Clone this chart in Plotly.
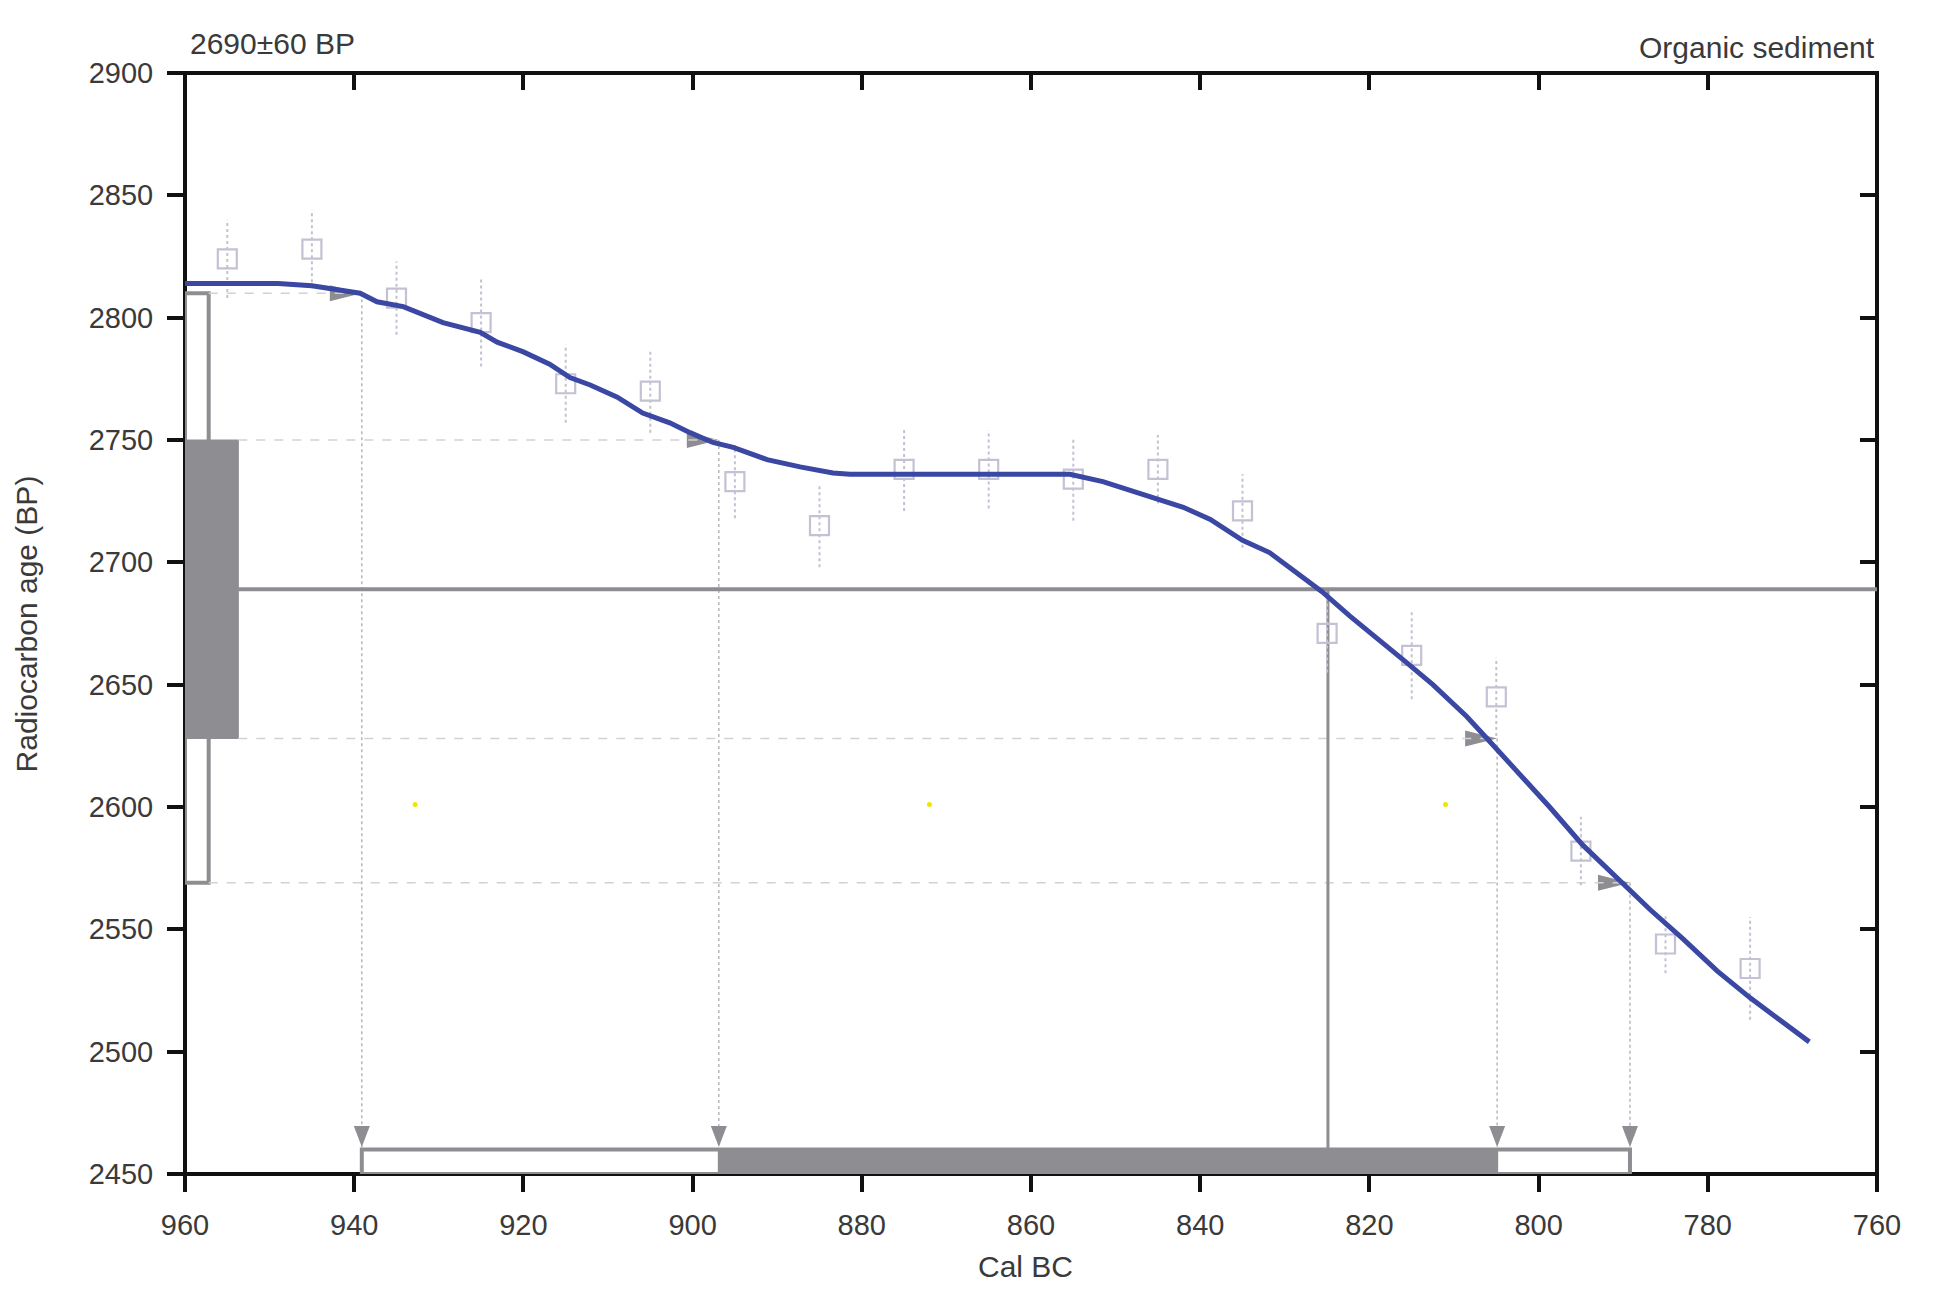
import plotly.graph_objects as go

# ---------------- data ----------------
cal_years = [960, 949, 945, 939.3, 937.3, 934.2, 929.5, 925.1, 923.1, 920, 916.9, 914.5, 912.1,
             908.9, 905.9, 902.7, 900.3, 897.6, 895.2, 891.2, 887.3, 883.4, 881.4, 875, 865,
             855.4, 851.5, 847.5, 842, 838.8, 835, 831.8, 828.2, 825.6, 822.3, 818.7, 815.6,
             812.5, 808.5, 806.1, 802.6, 798.7, 794.8, 790.8, 786.8, 782.9, 778.9, 775, 771.5, 768]
cal_bp = [2814, 2814, 2813, 2810, 2806.5, 2804.5, 2798, 2794, 2790, 2786, 2781, 2775.5, 2772.5,
          2767.5, 2761, 2757, 2753, 2749, 2747, 2742, 2739, 2736.5, 2736, 2736, 2736,
          2736, 2733, 2728.5, 2722.5, 2717.5, 2709, 2704, 2694.5, 2688, 2678, 2668, 2659,
          2650, 2637, 2628, 2615, 2600, 2584.5, 2571, 2558, 2546, 2533, 2522, 2513, 2504]

sample_years = [955, 945, 935, 925, 915, 905, 895, 885, 875, 865, 855, 845, 835, 825, 815, 805, 795, 785, 775]
sample_bp = [2824, 2828, 2808, 2798, 2773, 2770, 2733, 2715, 2738, 2738, 2734, 2738, 2721, 2671, 2662, 2645, 2582, 2544, 2534]
sample_err = [16, 16, 15, 18, 16, 17, 15, 17, 17, 16, 17, 14, 15, 16, 18, 16, 14, 12, 21]

date_bp = 2689
one_sigma_bp = [2628, 2750]
two_sigma_bp = [2569, 2810]
one_sigma_cal = [896.9, 804.9]     # calendar intercepts for 1 sigma (top, bottom)
two_sigma_cal = [939.1, 789.2]     # calendar intercepts for 2 sigma (top, bottom)
intercept_cal = 824.9

speck_years = [932.8, 872, 811]
speck_bp = [2601, 2601, 2601]

x_ticks = [960, 940, 920, 900, 880, 860, 840, 820, 800, 780, 760]
y_ticks = [2900, 2850, 2800, 2750, 2700, 2650, 2600, 2550, 2500, 2450]

# ---------------- style constants ----------------
X_RANGE = [960, 760]
Y_RANGE = [2450, 2900]
BOX1_RIGHT = 953.7      # right edge of filled 1-sigma box (years)
BOX2_RIGHT = 957.2      # right edge of open 2-sigma box
BAR_BOTTOM, BAR_TOP = 2450, 2460
ARROW_TIP_BP = 2461

GREY = "#8e8e92"
LIGHT = "#c2c2d4"
BLUE = "#3a47a3"
TXT = "#3a3a3a"
FONT = "Liberation Sans, Arial, sans-serif"

fig = go.Figure()

# left probability boxes
x0 = X_RANGE[0]
fig.add_trace(go.Scatter(
    x=[x0, BOX2_RIGHT, BOX2_RIGHT, x0, x0],
    y=[two_sigma_bp[0], two_sigma_bp[0], two_sigma_bp[1], two_sigma_bp[1], two_sigma_bp[0]],
    mode="lines", line=dict(color=GREY, width=4), fill="toself", fillcolor="white",
    hoverinfo="skip", showlegend=False))
fig.add_trace(go.Scatter(
    x=[x0, BOX1_RIGHT, BOX1_RIGHT, x0, x0],
    y=[one_sigma_bp[0], one_sigma_bp[0], one_sigma_bp[1], one_sigma_bp[1], one_sigma_bp[0]],
    mode="lines", line=dict(color=GREY, width=1), fill="toself", fillcolor=GREY,
    hoverinfo="skip", showlegend=False))

# dashed horizontal guides
hx, hy = [], []
for bp, xr, start in [(two_sigma_bp[1], two_sigma_cal[0], BOX2_RIGHT),
                      (one_sigma_bp[1], one_sigma_cal[0], BOX1_RIGHT),
                      (one_sigma_bp[0], one_sigma_cal[1], BOX1_RIGHT),
                      (two_sigma_bp[0], two_sigma_cal[1], BOX2_RIGHT)]:
    hx += [start, xr, None]
    hy += [bp, bp, None]
fig.add_trace(go.Scatter(x=hx, y=hy, mode="lines",
                         line=dict(color="#d2d2d6", width=1.5, dash="dash"),
                         hoverinfo="skip", showlegend=False))

# dotted vertical guides
vx, vy = [], []
for xv, bp in [(two_sigma_cal[0], two_sigma_bp[1]), (one_sigma_cal[0], one_sigma_bp[1]),
               (one_sigma_cal[1], one_sigma_bp[0]), (two_sigma_cal[1], two_sigma_bp[0])]:
    vx += [xv, xv, None]
    vy += [bp, ARROW_TIP_BP, None]
fig.add_trace(go.Scatter(x=vx, y=vy, mode="lines",
                         line=dict(color="#b8b8bc", width=1.5, dash="dot"),
                         hoverinfo="skip", showlegend=False))

# measured date line + intercept
fig.add_trace(go.Scatter(x=[BOX1_RIGHT, X_RANGE[1]], y=[date_bp, date_bp], mode="lines",
                         line=dict(color=GREY, width=4), hoverinfo="skip", showlegend=False))
fig.add_trace(go.Scatter(x=[intercept_cal, intercept_cal], y=[date_bp, BAR_TOP], mode="lines",
                         line=dict(color=GREY, width=3), hoverinfo="skip", showlegend=False))

# error bars (dotted) and open squares
ex, ey = [], []
for xv, bp, e in zip(sample_years, sample_bp, sample_err):
    ex += [xv, xv, None]
    ey += [bp - e, bp + e, None]
fig.add_trace(go.Scatter(x=ex, y=ey, mode="lines",
                         line=dict(color=LIGHT, width=2, dash="dot"),
                         hoverinfo="skip", showlegend=False))
fig.add_trace(go.Scatter(x=sample_years, y=sample_bp, mode="markers",
                         marker=dict(symbol="square-open", size=19, color=LIGHT,
                                     line=dict(width=2.2, color=LIGHT)),
                         showlegend=False))

# calibration curve
fig.add_trace(go.Scatter(x=cal_years, y=cal_bp, mode="lines",
                         line=dict(color=BLUE, width=5), showlegend=False))

# bottom calendar ranges
fig.add_trace(go.Scatter(
    x=[two_sigma_cal[0], two_sigma_cal[1], two_sigma_cal[1], two_sigma_cal[0], two_sigma_cal[0]],
    y=[BAR_BOTTOM, BAR_BOTTOM, BAR_TOP, BAR_TOP, BAR_BOTTOM],
    mode="lines", line=dict(color=GREY, width=4), fill="toself", fillcolor="white",
    hoverinfo="skip", showlegend=False))
fig.add_trace(go.Scatter(
    x=[one_sigma_cal[0], one_sigma_cal[1], one_sigma_cal[1], one_sigma_cal[0], one_sigma_cal[0]],
    y=[BAR_BOTTOM, BAR_BOTTOM, BAR_TOP, BAR_TOP, BAR_BOTTOM],
    mode="lines", line=dict(color=GREY, width=2), fill="toself", fillcolor=GREY,
    hoverinfo="skip", showlegend=False))

# yellow specks
fig.add_trace(go.Scatter(x=speck_years, y=speck_bp, mode="markers",
                         marker=dict(color="#f2e600", size=5), hoverinfo="skip", showlegend=False))

# invisible trace to activate mirror axes
fig.add_trace(go.Scatter(x=[None], y=[None], xaxis="x2", yaxis="y2", mode="markers",
                         hoverinfo="skip", showlegend=False))

shapes = []
# frame
shapes.append(dict(type="rect", xref="paper", yref="paper", x0=0, x1=1, y0=0, y1=1,
                   line=dict(color="#111111", width=4), layer="below"))
# arrowheads at curve intercepts and above the calendar bars
for xv, bp in [(two_sigma_cal[0], two_sigma_bp[1]), (one_sigma_cal[0], one_sigma_bp[1]),
               (one_sigma_cal[1], one_sigma_bp[0]), (two_sigma_cal[1], two_sigma_bp[0])]:
    shapes.append(dict(type="path", xref="x", yref="y", xsizemode="pixel", ysizemode="pixel",
                       xanchor=xv, yanchor=bp, path="M0,0 L-32,8 L-32,-8 Z",
                       fillcolor=GREY, line=dict(width=0), layer="below"))
    shapes.append(dict(type="path", xref="x", yref="y", xsizemode="pixel", ysizemode="pixel",
                       xanchor=xv, yanchor=ARROW_TIP_BP, path="M0,0 L-8,21 L8,21 Z",
                       fillcolor=GREY, line=dict(width=0), layer="above"))

tickfont = dict(family=FONT, size=29, color=TXT)
axis_common = dict(showgrid=False, zeroline=False, showline=False,
                   ticklen=17, tickwidth=4, tickcolor="#111111")

# page body has an 8px margin -> figure sized to fit the window
fig.update_layout(
    width=1922, height=1277, autosize=False,
    margin=dict(l=177, r=53, t=65, b=111),
    paper_bgcolor="white", plot_bgcolor="white",
    font=dict(family=FONT, color=TXT),
    xaxis=dict(range=X_RANGE, tickvals=x_ticks, ticks="outside", tickfont=tickfont,
               ticklabelstandoff=8, **axis_common),
    yaxis=dict(range=Y_RANGE, tickvals=y_ticks, ticks="outside", tickfont=tickfont,
               ticklabelstandoff=8, **axis_common),
    xaxis2=dict(range=X_RANGE, tickvals=x_ticks[1:-1], ticks="inside", overlaying="x",
                side="top", showticklabels=False, **axis_common),
    yaxis2=dict(range=Y_RANGE, tickvals=y_ticks[1:-1], ticks="inside", overlaying="y",
                side="right", showticklabels=False, **axis_common),
    shapes=shapes,
    annotations=[
        dict(text="2690±60 BP", xref="paper", yref="paper", x=0.002, y=1.027,
             xanchor="left", yanchor="middle", showarrow=False,
             font=dict(family=FONT, size=30, color=TXT)),
        dict(text="Organic sediment", xref="paper", yref="paper", x=1.0, y=1.023,
             xanchor="right", yanchor="middle", showarrow=False,
             font=dict(family=FONT, size=30, color=TXT)),
        dict(text="Radiocarbon age (BP)", xref="paper", yref="paper", x=-0.0934, y=0.5,
             xanchor="center", yanchor="middle", textangle=-90, showarrow=False,
             font=dict(family=FONT, size=30, color=TXT)),
        dict(text="Cal BC", xref="paper", yref="paper", x=0.497, y=-0.0836,
             xanchor="center", yanchor="middle", showarrow=False,
             font=dict(family=FONT, size=30, color=TXT)),
    ],
)

fig.write_html("out.html")
